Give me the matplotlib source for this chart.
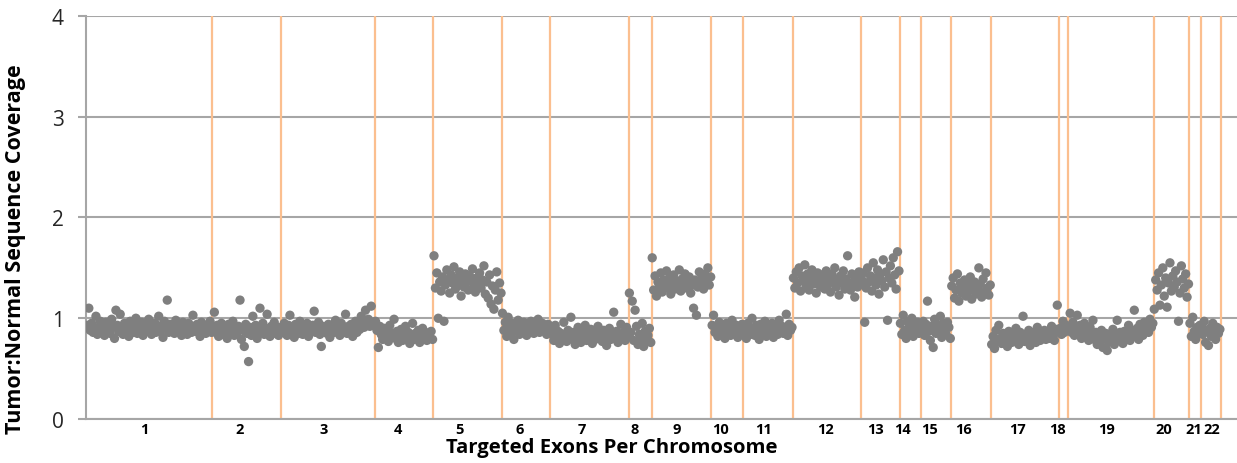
import matplotlib.pyplot as plt
import numpy as np

# tumor:normal coverage ratio for each targeted exon, listed per chromosome
chr1 = [0.93, 1.10, 0.88, 0.95, 0.86, 0.91, 1.02, 0.84, 0.90, 0.97, 0.87, 0.92, 0.83, 0.96, 0.89, 0.94, 0.85, 0.99, 0.91, 0.80,
        1.08, 0.93, 0.87, 1.04, 0.90, 0.84, 0.95, 0.88, 0.92, 0.82, 0.97, 0.89, 0.86, 0.93, 1.00, 0.85, 0.91, 0.88, 0.96, 0.83,
        0.90, 0.94, 0.87, 0.99, 0.92, 0.84, 0.89, 0.95, 0.86, 0.93, 1.02, 0.88, 0.91, 0.81, 0.97, 0.90, 1.18, 0.86, 0.94, 0.89,
        0.92, 0.85, 0.98, 0.87, 0.93, 0.90, 0.83, 0.96, 0.88, 0.91, 0.84, 0.95, 0.89, 0.86, 1.03, 0.92, 0.87, 0.94, 0.90, 0.82,
        0.96, 0.88, 0.91, 0.85, 0.93, 0.89, 0.97, 0.86]
chr2 = [0.90, 1.06, 0.86, 0.93, 0.82, 0.89, 0.95, 0.84, 0.91, 0.87, 0.80, 0.94, 0.88, 0.85, 0.97, 0.83, 0.90, 0.86, 0.92, 1.18,
        0.79, 0.88, 0.72, 0.94, 0.85, 0.57, 0.91, 0.83, 1.02, 0.87, 0.93, 0.80, 0.89, 1.10, 0.86, 0.95, 0.84, 0.90, 1.04, 0.88,
        0.82, 0.92, 0.87, 0.96, 0.85, 0.91, 0.83, 0.89]
chr3 = [0.91, 0.86, 0.95, 0.88, 0.83, 0.93, 1.03, 0.87, 0.90, 0.81, 0.94, 0.89, 0.85, 0.97, 0.92, 0.84, 0.90, 0.87, 0.95, 0.82,
        0.91, 0.88, 0.93, 1.07, 0.86, 0.89, 0.96, 0.84, 0.72, 0.92, 0.87, 0.90, 0.85, 0.94, 0.81, 0.89, 0.93, 0.86, 0.98, 0.88,
        0.91, 0.83, 0.95, 0.87, 0.90, 1.04, 0.85, 0.92, 0.88, 0.94, 0.82, 0.90, 0.97, 0.86, 0.93, 0.89, 1.02, 0.95, 0.91, 1.08,
        0.94, 0.99, 0.92, 1.12, 0.96, 0.93]
chr4 = [0.97, 0.88, 0.71, 0.92, 0.84, 0.79, 0.90, 0.82, 0.86, 0.77, 0.93, 0.81, 0.85, 0.99, 0.80, 0.87, 0.76, 0.83, 0.89, 0.78,
        0.84, 0.92, 0.80, 0.86, 0.75, 0.82, 0.95, 0.79, 0.85, 0.81, 0.88, 0.76, 0.83, 0.90, 0.80, 0.86, 0.78, 0.84, 0.81, 0.87, 0.79]
chr5 = [1.62, 1.30, 1.45, 1.00, 1.36, 1.27, 1.41, 0.97, 1.33, 1.48, 1.38, 1.25, 1.43, 1.35, 1.51, 1.29, 1.40, 1.34, 1.46, 1.22,
        1.39, 1.31, 1.44, 1.36, 1.28, 1.42, 1.37, 1.49, 1.33, 1.26, 1.40, 1.35, 1.45, 1.30, 1.38, 1.52, 1.24, 1.36, 1.20, 1.43,
        1.14, 1.32, 1.09, 1.28, 1.46, 1.18, 1.35, 1.25]
chr6 = [1.05, 0.88, 0.96, 0.82, 1.01, 0.91, 0.86, 0.95, 0.79, 0.93, 0.89, 0.98, 0.84, 0.92, 0.87, 0.96, 0.90, 0.83, 0.94, 0.88,
        0.97, 0.91, 0.85, 0.93, 0.89, 0.99, 0.86, 0.92, 0.95, 0.88, 0.91, 0.84, 0.94, 0.90]
chr7 = [0.90, 0.84, 0.78, 0.93, 0.81, 0.87, 0.75, 0.85, 0.80, 0.96, 0.83, 0.77, 0.88, 0.82, 1.01, 0.79, 0.86, 0.74, 0.84, 0.91,
        0.80, 0.76, 0.87, 0.82, 0.93, 0.78, 0.85, 0.81, 0.89, 0.75, 0.83, 0.79, 0.86, 0.92, 0.80, 0.84, 0.77, 0.88, 0.82, 0.73,
        0.85, 0.90, 0.79, 0.83, 1.06, 0.81, 0.87, 0.76, 0.84, 0.94, 0.80, 0.86, 0.78, 0.91, 0.83]
chr8 = [1.25, 0.86, 1.17, 0.78, 1.08, 0.92, 0.74, 0.84, 0.80, 0.95, 0.72, 0.87, 0.79, 0.83, 0.90, 0.76]
chr9 = [1.60, 1.28, 1.42, 1.22, 1.36, 1.31, 1.45, 1.26, 1.38, 1.33, 1.47, 1.30, 1.40, 1.24, 1.35, 1.43, 1.29, 1.37, 1.32, 1.48,
        1.27, 1.39, 1.34, 1.44, 1.30, 1.36, 1.41, 1.25, 1.33, 1.10, 1.38, 1.03, 1.31, 1.46, 1.35, 1.40, 1.29, 1.44, 1.37, 1.50,
        1.33, 1.41]
chr10 = [0.93, 1.03, 0.86, 0.90, 0.82, 0.96, 0.88, 0.84, 0.92, 0.80, 0.95, 0.87, 0.91, 0.83, 0.98, 0.89, 0.85, 0.93, 0.81, 0.90,
         0.87, 0.94]
chr11 = [0.86, 0.92, 0.80, 0.95, 0.88, 0.84, 1.00, 0.90, 0.83, 0.93, 0.87, 0.79, 0.94, 0.89, 0.85, 0.97, 0.82, 0.91, 0.88, 0.86,
         0.95, 0.81, 0.90, 0.93, 0.84, 0.98, 0.87, 0.92, 0.85, 0.89, 1.04, 0.83, 0.94, 0.88, 0.91]
chr12 = [1.40, 1.30, 1.46, 1.35, 1.50, 1.27, 1.42, 1.37, 1.53, 1.32, 1.44, 1.28, 1.39, 1.48, 1.34, 1.41, 1.25, 1.45, 1.36, 1.31,
         1.43, 1.38, 1.29, 1.47, 1.33, 1.40, 1.26, 1.44, 1.36, 1.50, 1.31, 1.38, 1.23, 1.42, 1.35, 1.47, 1.29, 1.39, 1.62, 1.33,
         1.28, 1.44, 1.36, 1.21, 1.40, 1.31, 1.46, 1.34]
chr13 = [1.38, 1.45, 0.96, 1.30, 1.50, 1.36, 1.42, 1.27, 1.55, 1.40, 1.33, 1.48, 1.24, 1.44, 1.37, 1.58, 1.31, 1.46, 0.98, 1.40,
         1.52, 1.35, 1.60, 1.43, 1.29, 1.66, 1.47]
chr14 = [0.95, 0.84, 1.03, 0.88, 0.80, 0.97, 0.91, 0.86, 1.00, 0.82, 0.93, 0.89, 0.96, 0.85, 0.92]
chr15 = [0.90, 0.97, 0.83, 0.94, 1.17, 0.87, 0.78, 0.92, 0.71, 0.99, 0.85, 0.93, 0.88, 1.02, 0.81, 0.95, 0.89, 0.84, 0.96, 0.91, 0.80]
chr16 = [1.32, 1.40, 1.20, 1.28, 1.44, 1.17, 1.35, 1.25, 1.30, 1.38, 1.22, 1.33, 1.27, 1.41, 1.19, 1.31, 1.36, 1.24, 1.29, 1.50,
         1.34, 1.21, 1.39, 1.26, 1.45, 1.30, 1.23, 1.33]
chr17 = [0.74, 0.82, 0.70, 0.88, 0.77, 0.93, 0.80, 0.75, 0.85, 0.79, 0.83, 0.72, 0.87, 0.81, 0.76, 0.84, 0.78, 0.90, 0.80, 0.74,
         0.86, 0.82, 1.02, 0.77, 0.84, 0.79, 0.88, 0.73, 0.83, 0.80, 0.86, 0.76, 0.91, 0.82, 0.78, 0.85, 0.81, 0.88, 0.79, 0.84,
         0.87, 0.80, 0.92, 0.83, 0.78, 0.89, 1.13, 0.86]
chr18 = [0.90, 0.84, 0.97, 0.86, 0.93, 0.88]
chr19 = [0.92, 1.05, 0.86, 0.96, 0.83, 0.90, 1.03, 0.85, 0.93, 0.80, 0.88, 0.95, 0.82, 0.89, 0.78, 0.91, 0.84, 0.98, 0.79, 0.86,
         0.74, 0.83, 0.77, 0.88, 0.71, 0.80, 0.85, 0.68, 0.76, 0.82, 0.79, 0.89, 0.74, 0.84, 0.98, 0.78, 0.86, 0.81, 0.75, 0.87,
         0.80, 0.84, 0.93, 0.78, 0.88, 0.82, 1.08, 0.85, 0.90, 0.79, 0.94, 0.87, 0.83, 0.96, 0.89, 0.92, 0.86, 0.99, 0.91, 0.95]
chr20 = [1.09, 1.38, 1.28, 1.45, 1.13, 1.33, 1.50, 1.22, 1.40, 1.11, 1.35, 1.55, 1.27, 1.42, 1.31, 1.47, 1.36, 0.97, 1.25, 1.52,
         1.39, 1.30, 1.44, 1.21, 1.34]
chr21 = [0.95, 0.82, 1.01, 0.87, 0.79, 0.91, 0.85, 0.93]
chr22 = [0.92, 0.84, 0.97, 0.76, 0.88, 0.73, 0.90, 0.82, 0.95, 0.86, 0.79, 0.91, 0.85, 0.89]

chromosomes = [chr1, chr2, chr3, chr4, chr5, chr6, chr7, chr8, chr9, chr10, chr11,
               chr12, chr13, chr14, chr15, chr16, chr17, chr18, chr19, chr20, chr21, chr22]
chrom_names = [str(i) for i in range(1, 23)]

# exon index runs on across chromosomes
y = np.concatenate(chromosomes)
x = np.arange(len(y))
counts = np.array([len(c) for c in chromosomes])
ends = np.cumsum(counts)
starts = ends - counts

# labels are not quite centred in the original, nudge them (in exon units)
label_shift = [-4, -5, -3, -5, -6, -5, -6, -4, -4, -5, -3.5, -1.5, -4, -6, -5, -6, -6, -5, -3.5, -6, -1.5, 0.5]

plt.rcParams['font.family'] = ['Open Sans', 'DejaVu Sans']

fig = plt.figure(figsize=(12.37, 4.64), dpi=100)
ax = fig.add_axes([0.0695, 0.0948, 0.9305, 0.8686])

# horizontal gridlines
for v in range(5):
    ax.axhline(v, color='#a6a6a6', linewidth=1.5, zorder=1)

# chromosome boundaries
for e in ends:
    ax.axvline(e - 0.5, color='#fbbf8f', linewidth=1.6, zorder=2)

ax.scatter(x, y, s=45, color='#7f7f7f', edgecolors='none', zorder=3)

ax.set_xlim(-1, 806)
ax.set_ylim(0, 4)

ax.set_yticks(range(5))
ax.set_yticklabels([str(v) for v in range(5)], fontsize=15, color='#262626')
ax.tick_params(axis='y', length=6, width=1.5, color='#a6a6a6', pad=10)

ax.set_xticks((starts + ends) / 2 + np.array(label_shift))
ax.set_xticklabels(chrom_names, fontsize=10.5, fontweight='bold', color='black')
ax.tick_params(axis='x', length=0, pad=2)

ax.spines['top'].set_visible(False)
ax.spines['right'].set_visible(False)
ax.spines['left'].set_color('#a6a6a6')
ax.spines['left'].set_linewidth(1.5)
ax.spines['bottom'].set_color('#a6a6a6')
ax.spines['bottom'].set_linewidth(1.5)

ax.set_xlabel('Targeted Exons Per Chromosome', fontsize=14.6, fontweight='bold', va='center')
ax.xaxis.set_label_coords(0.457, -0.069)
ax.set_ylabel('Tumor:Normal Sequence Coverage', fontsize=15.5, fontweight='bold', va='center')
ax.yaxis.set_label_coords(-0.061, 0.424)

plt.savefig('out.png', dpi=100)
